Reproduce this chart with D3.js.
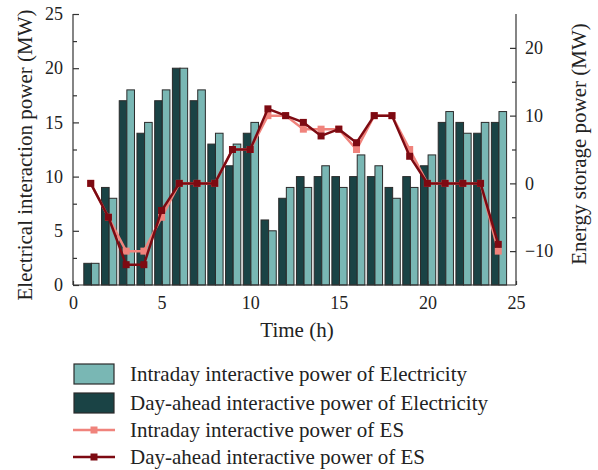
<!DOCTYPE html>
<html>
<head>
<meta charset="utf-8">
<script src="https://cdn.jsdelivr.net/npm/d3@7"></script>
<style>
  body { margin: 0; background: #fff; }
  svg { display: block; font-family: "Liberation Serif", "Times New Roman", serif; }
</style>
</head>
<body>
<div id="chart"></div>
<script>
"use strict";

// data
var hours = d3.range(1, 25);
var intradayGrid = [2, 8, 18, 15, 18, 20, 18, 14, 13, 15, 5, 9, 9, 11, 9, 12, 11, 8, 9, 12, 16, 14, 15, 16];
var dayAheadGrid = [2, 9, 17, 14, 17, 20, 17, 13, 11, 14, 6, 8, 10, 10, 10, 10, 10, 9, 10, 11, 15, 15, 14, 15];
var intradayES = [0, -5, -10, -10, -5, 0, 0, 0, 5, 5, 10, 10, 8, 8, 8, 5, 10, 10, 5, 0, 0, 0, 0, -10];
var dayAheadES = [0, -5, -12, -12, -4, 0, 0, 0, 5, 5, 11, 10, 9, 7, 8, 6, 10, 10, 4, 0, 0, 0, 0, -9];
var xTicks = [0, 5, 10, 15, 20, 25];
var leftTicks = [0, 5, 10, 15, 20, 25];
var rightTicks = [-10, 0, 10, 20];
var legendLabels = [
    "Intraday interactive power of Electricity",
    "Day-ahead interactive power of Electricity",
    "Intraday interactive power of ES",
    "Day-ahead interactive power of ES"
];

var colLight = "#79b7b4", colDark = "#1a4345", colSalmon = "#f0837c", colRed = "#7d0a12";
var axisCol = "#333", textCol = "#222";

var width = 598, height = 470;
var plot = { left: 73, right: 516, top: 14, bottom: 285 };
var barW = 0.43;
var tickFont = "18px", titleFont = "21px";

var svg = d3.select("#chart").append("svg")
    .attr("width", width).attr("height", height);

var x = d3.scaleLinear().domain([0, 25]).range([plot.left, plot.right]);
var yL = d3.scaleLinear().domain([0, 25]).range([plot.bottom, plot.top]);
var yR = d3.scaleLinear().domain([-15, 25]).range([plot.bottom, plot.top]);

// bars: day-ahead left of the hour, intraday right of it
var bars = svg.append("g");
bars.selectAll("rect.dark").data(dayAheadGrid).enter().append("rect")
    .attr("x", function (d, i) { return x(hours[i] - barW) + 0.7; })
    .attr("width", x(barW) - x(0))
    .attr("y", function (d) { return yL(d); })
    .attr("height", function (d) { return yL(0) - yL(d); })
    .attr("fill", colDark).attr("stroke", "#2b2b2b").attr("stroke-width", 1);
bars.selectAll("rect.light").data(intradayGrid).enter().append("rect")
    .attr("x", function (d, i) { return x(hours[i]) + 0.7; })
    .attr("width", x(barW) - x(0))
    .attr("y", function (d) { return yL(d); })
    .attr("height", function (d) { return yL(0) - yL(d); })
    .attr("fill", colLight).attr("stroke", "#2b2b2b").attr("stroke-width", 1);

// axes
var gL = svg.append("g").attr("transform", "translate(" + plot.left + ",0)")
    .call(d3.axisLeft(yL).tickValues(leftTicks).tickSize(-6).tickPadding(10));
svg.append("g").attr("transform", "translate(" + plot.left + ",0)")
    .call(d3.axisLeft(yL).tickValues(d3.range(2.5, 25, 5)).tickSize(-4).tickFormat(""))
    .select(".domain").remove();

var gR = svg.append("g").attr("transform", "translate(" + plot.right + ",0)")
    .call(d3.axisRight(yR).tickValues(rightTicks).tickSize(-6).tickPadding(9)
        .tickFormat(function (d) { return d < 0 ? "\u2212" + Math.abs(d) : d; }));
svg.append("g").attr("transform", "translate(" + plot.right + ",0)")
    .call(d3.axisRight(yR).tickValues([-5, 5, 15]).tickSize(-4).tickFormat(""))
    .select(".domain").remove();

var gX = svg.append("g").attr("transform", "translate(0," + plot.bottom + ")")
    .call(d3.axisBottom(x).tickValues(xTicks).tickSize(-4).tickPadding(11));

[gL, gR, gX].forEach(function (g) {
    g.selectAll("text").attr("font-size", tickFont).attr("fill", textCol)
        .attr("font-family", "Liberation Serif, serif");
});
svg.selectAll(".domain").attr("stroke", axisCol).attr("stroke-width", 1.2);
svg.selectAll(".tick line").attr("stroke", axisCol).attr("stroke-width", 1.2);
// plain axis lines, no end caps
gL.select(".domain").attr("d", "M0," + plot.top + "V" + plot.bottom);
gR.select(".domain").attr("d", "M0," + plot.top + "V" + plot.bottom);
gX.select(".domain").attr("d", "M" + plot.left + ",0H" + plot.right);

// ES lines
var line = function (vals) {
    return d3.line().x(function (d, i) { return x(hours[i]); }).y(function (d) { return yR(d); })(vals);
};
svg.append("path").attr("d", line(intradayES)).attr("fill", "none")
    .attr("stroke", colSalmon).attr("stroke-width", 2.5);
svg.append("g").selectAll("rect").data(intradayES).enter().append("rect")
    .attr("x", function (d, i) { return x(hours[i]) - 3.5; })
    .attr("y", function (d) { return yR(d) - 3.5; })
    .attr("width", 7).attr("height", 7).attr("fill", colSalmon);
svg.append("path").attr("d", line(dayAheadES)).attr("fill", "none")
    .attr("stroke", colRed).attr("stroke-width", 2.5);
svg.append("g").selectAll("rect").data(dayAheadES).enter().append("rect")
    .attr("x", function (d, i) { return x(hours[i]) - 3.5; })
    .attr("y", function (d) { return yR(d) - 3.5; })
    .attr("width", 7).attr("height", 7).attr("fill", colRed);

// axis titles
svg.append("text").attr("transform", "translate(32,155) rotate(-90)")
    .attr("text-anchor", "middle").attr("font-size", titleFont).attr("fill", textCol)
    .text("Electrical interaction power (MW)");
svg.append("text").attr("transform", "translate(586,144) rotate(-90)")
    .attr("text-anchor", "middle").attr("font-size", titleFont).attr("fill", textCol)
    .text("Energy storage power (MW)");
svg.append("text").attr("x", 297).attr("y", 337)
    .attr("text-anchor", "middle").attr("font-size", titleFont).attr("fill", textCol)
    .text("Time (h)");

// legend
var legY = [374, 403, 430, 457];
var legBase = [381, 410, 437, 464];
var leg = svg.append("g");
leg.append("rect").attr("x", 74).attr("y", legY[0] - 10).attr("width", 40).attr("height", 20)
    .attr("fill", colLight).attr("stroke", "#2b2b2b").attr("stroke-width", 1.2);
leg.append("rect").attr("x", 74).attr("y", legY[1] - 10).attr("width", 40).attr("height", 20)
    .attr("fill", colDark).attr("stroke", "#2b2b2b").attr("stroke-width", 1.2);
[[colSalmon, legY[2]], [colRed, legY[3]]].forEach(function (p) {
    leg.append("line").attr("x1", 73).attr("x2", 115).attr("y1", p[1]).attr("y2", p[1])
        .attr("stroke", p[0]).attr("stroke-width", 2.5);
    leg.append("rect").attr("x", 90.5).attr("y", p[1] - 3.5).attr("width", 7).attr("height", 7)
        .attr("fill", p[0]);
});
leg.selectAll("text").data(legendLabels).enter().append("text")
    .attr("x", 130).attr("y", function (d, i) { return legBase[i]; })
    .attr("font-size", titleFont).attr("fill", textCol)
    .text(function (d) { return d; });
</script>
</body>
</html>
